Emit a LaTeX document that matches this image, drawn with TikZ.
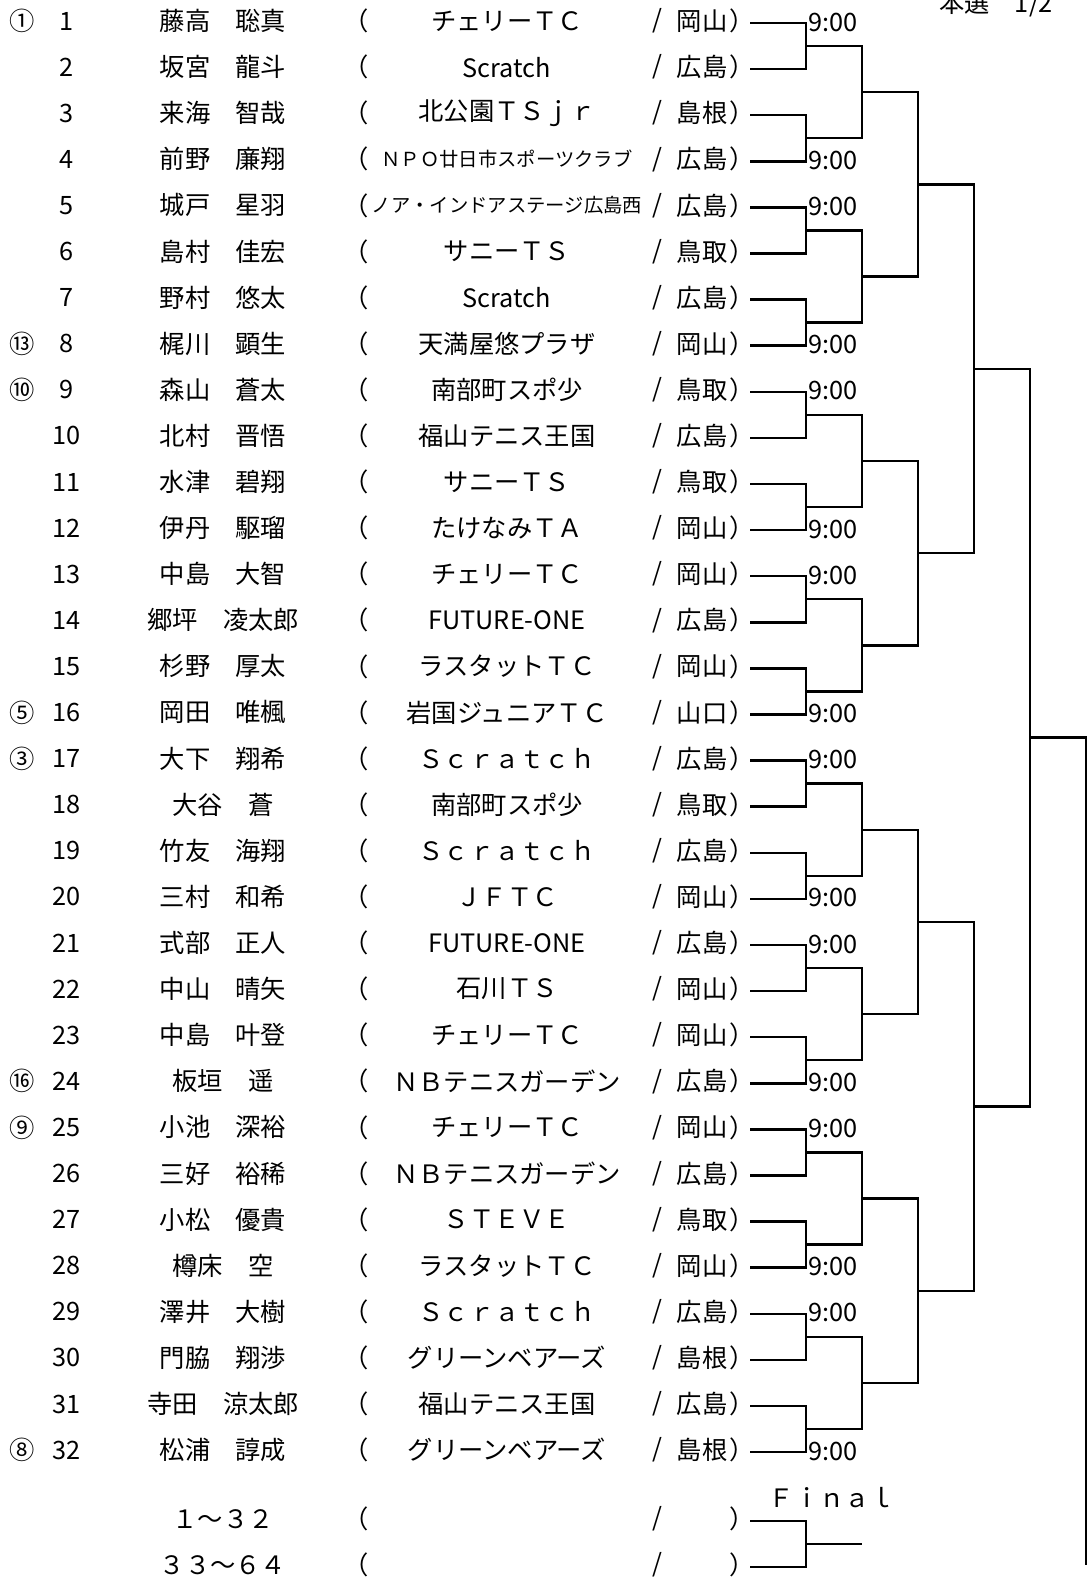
\documentclass[tikz,border=0pt]{standalone}
\usepackage{fontspec}
\setmainfont{Noto Sans CJK JP}
\usetikzlibrary{calc}
\newcommand\tightclub{\fontsize{5.5pt}{6pt}\selectfont}
\tikzset{
  bracket/.style={line width=0.7pt},
  entry/.style={font=\fontsize{7.2pt}{8pt}\selectfont, inner sep=0pt},
  time/.style={entry, anchor=west},
}

\begin{document}
\begin{tikzpicture}
            \useasboundingbox (0,0) rectangle (10.92,-15.78);
            \node[entry] (title) at (9.96,-0.04) {本選　1/2};
            % players
            \foreach \i/\nm/\club/\pref in {
                1/藤高　聡真/チェリーＴＣ/岡山, 2/坂宮　龍斗/Scratch/広島,
                3/来海　智哉/北公園ＴＳｊｒ/島根, 4/前野　廉翔/{\tightclub ＮＰＯ廿日市スポーツクラブ}/広島,
                5/城戸　星羽/{\tightclub ノア・インドアステージ広島西}/広島, 6/島村　佳宏/サニーＴＳ/鳥取,
                7/野村　悠太/Scratch/広島, 8/梶川　顕生/天満屋悠プラザ/岡山,
                9/森山　蒼太/南部町スポ少/鳥取, 10/北村　晋悟/福山テニス王国/広島,
                11/水津　碧翔/サニーＴＳ/鳥取, 12/伊丹　駆瑠/たけなみＴＡ/岡山,
                13/中島　大智/チェリーＴＣ/岡山, 14/郷坪　凌太郎/FUTURE-ONE/広島,
                15/杉野　厚太/ラスタットＴＣ/岡山, 16/岡田　唯楓/岩国ジュニアＴＣ/山口,
                17/大下　翔希/Ｓｃｒａｔｃｈ/広島, 18/大谷　蒼/南部町スポ少/鳥取,
                19/竹友　海翔/Ｓｃｒａｔｃｈ/広島, 20/三村　和希/ＪＦＴＣ/岡山,
                21/式部　正人/FUTURE-ONE/広島, 22/中山　晴矢/石川ＴＳ/岡山,
                23/中島　叶登/チェリーＴＣ/岡山, 24/板垣　遥/ＮＢテニスガーデン/広島,
                25/小池　深裕/チェリーＴＣ/岡山, 26/三好　裕稀/ＮＢテニスガーデン/広島,
                27/小松　優貴/ＳＴＥＶＥ/鳥取, 28/樽床　空/ラスタットＴＣ/岡山,
                29/澤井　大樹/Ｓｃｒａｔｃｈ/広島, 30/門脇　翔渉/グリーンベアーズ/島根,
                31/寺田　涼太郎/福山テニス王国/広島, 32/松浦　諄成/グリーンベアーズ/島根} {
                \coordinate (m0-\i) at (7.50, {-0.23-0.461*(\i-1)});
                \node[entry] (n\i) at (0.67, {-0.21-0.461*(\i-1)}) {\i};
                \node[entry] (p\i) at (2.23, {-0.21-0.461*(\i-1)}) {\nm};
                \node[entry] (l\i) at (3.56, {-0.21-0.461*(\i-1)}) {（};
                \node[entry] (c\i) at (5.07, {-0.21-0.461*(\i-1)}) {\club};
                \node[entry] (d\i) at (6.57, {-0.21-0.461*(\i-1)}) {/};
                \node[entry] (k\i) at (7.02, {-0.21-0.461*(\i-1)}) {\pref};
                \node[entry] (r\i) at (7.42, {-0.21-0.461*(\i-1)}) {）};
            }
            % seeds
            \foreach \i/\s in {1/①, 8/⑬, 9/⑩, 16/⑤, 17/③, 24/⑯, 25/⑨, 32/⑧} {
                \node[entry] (s\i) at (0.22, {-0.21-0.461*(\i-1)}) {\s};
            }
            % brackets, round by round
            \foreach \k/\x in {1/8.06, 2/8.62, 3/9.18, 4/9.74, 5/10.30} {
                \pgfmathtruncatemacro\n{2^(5-\k)}
                \pgfmathtruncatemacro\p{\k-1}
                \foreach \j in {1,...,\n} {
                    \pgfmathtruncatemacro\a{2*\j-1}
                    \pgfmathtruncatemacro\b{2*\j}
                    \draw[bracket] (m\p-\a) -- (m\p-\a -| \x,0) -- (m\p-\b -| \x,0) -- (m\p-\b);
                    \coordinate (m\k-\j) at ($(m\p-\a -| \x,0)!0.5!(m\p-\b -| \x,0)$);
                }
            }
            \coordinate (lower) at (10.86,-15.65);
            \draw[bracket] (m5-1) -| (lower);
            % start times
            \foreach \i in {1,4,5,8,9,12,13,16,17,20,21,24,25,28,29,32} {
                \node[time] (t\i) at ($(m0-\i)+(0.58,0.01)$) {9:00};
            }
            % final
            \node[entry] (final) at (8.32,-14.98) {Ｆｉｎａｌ};
            \foreach \i/\y/\nm in {1/-15.21/１～３２, 2/-15.67/３３～６４} {
                \coordinate (f\i) at (7.50,\y);
                \node[entry] (fp\i) at (2.23,\y+0.02) {\nm};
                \node[entry] (fl\i) at (3.56,\y+0.02) {（};
                \node[entry] (fd\i) at (6.57,\y+0.02) {/};
                \node[entry] (fr\i) at (7.42,\y+0.02) {）};
            }
            \coordinate (champ) at (8.62,-15.44);
            \draw[bracket] (f1) -| (champ -| 8.06,0) |- (f2);
            \draw[bracket] (champ -| 8.06,0) -- (champ);
        \end{tikzpicture}
\end{document}
